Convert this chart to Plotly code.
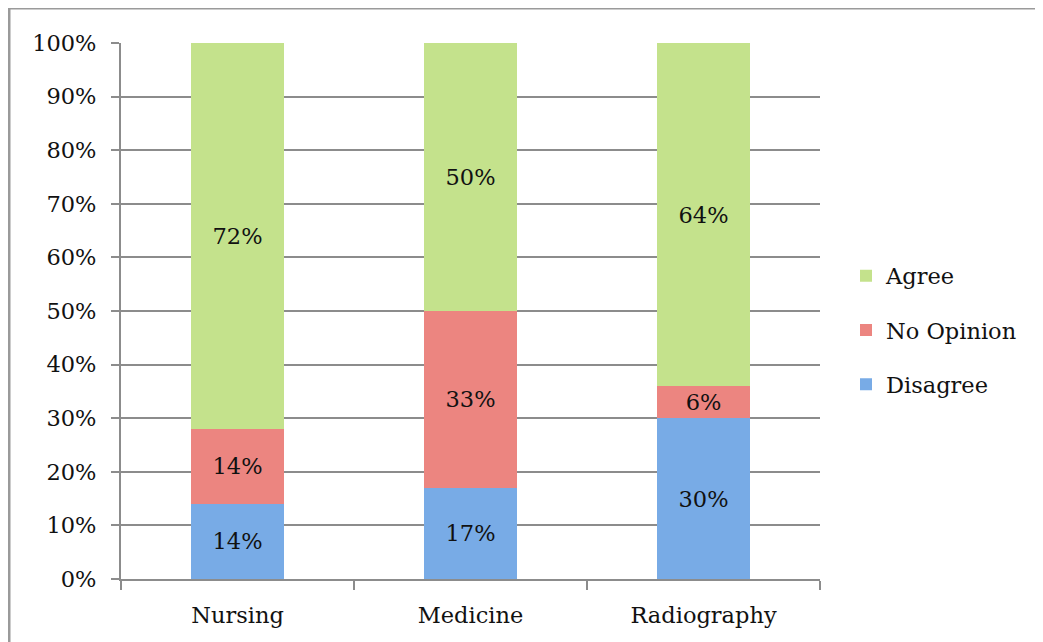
import plotly.graph_objects as go

categories = ["Nursing", "Medicine", "Radiography"]
disagree = [14, 17, 30]
no_opinion = [14, 33, 6]
agree = [72, 50, 64]
y_tick_vals = [0, 10, 20, 30, 40, 50, 60, 70, 80, 90, 100]
y_tick_text = [f"{v}%" for v in y_tick_vals]

FONT = "DejaVu Serif"
FS = 22.5
series = [
    ("Disagree", disagree, "#78abe6", 3),
    ("No Opinion", no_opinion, "#ec8580", 2),
    ("Agree", agree, "#c4e28c", 1),
]

fig = go.Figure()
for name, vals, color, rank in series:
    fig.add_trace(go.Bar(
        name=name, x=categories, y=vals, legendgroup=name, legendrank=rank,
        marker=dict(color=color, line=dict(width=0)),
        text=[f"{v}%" for v in vals],
        textposition="inside", insidetextanchor="middle", textangle=0,
        insidetextfont=dict(family=FONT, size=FS, color="#111111"),
        width=0.4,
    ))

OFF = 8  # page body margin
W, H = 1043 - OFF, 642 - OFF
L, R, T, B = 121 - OFF, 1043 - 820, 43 - OFF, 642 - 579
pw, ph = W - L - R, H - T - B
fx = lambda px: (px - OFF - L) / pw
fy = lambda py: 1 - (py - OFF - T) / ph

fig.update_layout(
    barmode="stack",
    width=W, height=H,
    margin=dict(l=L, r=R, t=T, b=B, autoexpand=False),
    paper_bgcolor="white", plot_bgcolor="white",
    font=dict(family=FONT, size=FS, color="#111111"),
    legend=dict(
        traceorder="grouped",
        x=fx(846), y=fy(330), xanchor="left", yanchor="middle",
        font=dict(family=FONT, size=FS, color="#111111"),
        tracegroupgap=22, itemwidth=30,
        bgcolor="rgba(0,0,0,0)",
    ),
    xaxis=dict(
        showline=True, linecolor="#8c8c8c", linewidth=2,
        ticks="outside", tickson="boundaries", ticklen=9, tickcolor="#8c8c8c", tickwidth=2,
        showgrid=False, ticklabelstandoff=15,
        tickfont=dict(family=FONT, size=FS, color="#111111"),
    ),
    yaxis=dict(
        range=[0, 100], tickvals=y_tick_vals, ticktext=y_tick_text,
        showline=True, linecolor="#8c8c8c", linewidth=2,
        ticks="outside", ticklen=8, tickcolor="#8c8c8c", tickwidth=2,
        showgrid=True, gridcolor="#8c8c8c", gridwidth=2,
        zeroline=False, ticklabelstandoff=10,
        tickfont=dict(family=FONT, size=FS, color="#111111"),
    ),
    shapes=[
        dict(type="line", xref="paper", yref="paper",
             x0=fx(9), x1=fx(1060), y0=fy(8), y1=fy(8),
             line=dict(color="#9a9a9a", width=3)),
        dict(type="line", xref="paper", yref="paper",
             x0=fx(9), x1=fx(9), y0=fy(8), y1=fy(660),
             line=dict(color="#9a9a9a", width=3)),
    ],
)

fig.write_html("out.html")
